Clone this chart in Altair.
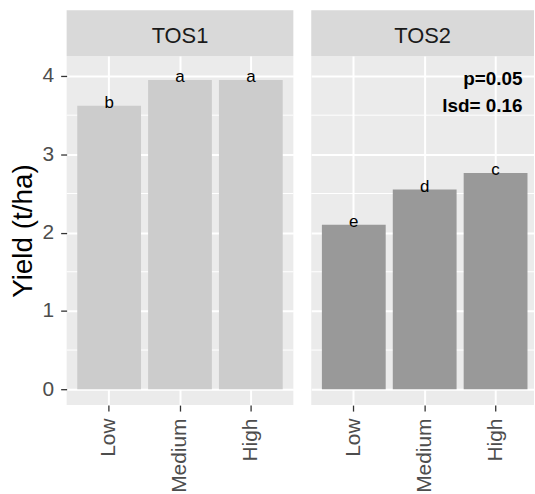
import altair as alt
import pandas as pd

levels = ["Low", "Medium", "High"]
panels = ["TOS1", "TOS2"]
tos1_yield = [3.62, 3.95, 3.95]
tos2_yield = [2.10, 2.55, 2.76]
tos1_letters = ["b", "a", "a"]
tos2_letters = ["e", "d", "c"]
bar_colors = ["#CCCCCC", "#999999"]
note_lines = ["p=0.05", "lsd= 0.16"]
note_level = ["High", "High"]
note_y = [3.89, 3.545]
y_ticks = [0, 1, 2, 3, 4]
y_minor = [0.5, 1.5, 2.5, 3.5]

FONT = "Liberation Sans"
H = 351
STRIP = 46
YDOM = [-0.203, 4.255]


def make_panel(name, vals, letters, color, width, first, scale_kw, notes=False):
    df = pd.DataFrame({"level": levels, "yield": vals, "letter": letters})
    xscale = alt.Scale(domain=levels, **scale_kw)
    yscale = alt.Scale(domain=YDOM, nice=False, zero=False)
    xaxis = alt.Axis(
        title=None, labelAngle=270, labelAlign="right", labelBaseline="middle",
        labelFontSize=21, labelColor="#4D4D4D", labelFont=FONT, labelPadding=7,
        tickSize=6, tickColor="#333333", tickWidth=1.3, domain=False,
        grid=True, gridColor="white", gridWidth=2, bandPosition=0.5,
    )
    if first:
        yaxis = alt.Axis(
            title="Yield (t/ha)", values=y_ticks, format="d",
            titleFontSize=28, titleFont=FONT,
            titleFontWeight="normal", titleColor="black", titlePadding=5,
            labelFontSize=21, labelColor="#4D4D4D", labelFont=FONT, labelPadding=7,
            tickSize=6, tickColor="#333333", tickWidth=1.3, domain=False,
            grid=True, gridColor="white", gridWidth=2,
        )
    else:
        yaxis = alt.Axis(
            title=None, values=y_ticks, labels=False, ticks=False, domain=False,
            grid=True, gridColor="white", gridWidth=2,
        )
    x_enc = alt.X("level:N", scale=xscale, axis=xaxis, sort=levels)
    bars = alt.Chart(df).mark_bar(color=color).encode(
        x=x_enc,
        y=alt.Y("yield:Q", scale=yscale, axis=yaxis),
        y2=alt.datum(0),
    )
    minor = alt.Chart(pd.DataFrame({"v": y_minor})).mark_rule(
        color="white", strokeWidth=1
    ).encode(y=alt.Y("v:Q", scale=yscale, axis=yaxis))
    lett = alt.Chart(df).mark_text(
        font=FONT, fontSize=17, baseline="alphabetic", dy=2, color="black"
    ).encode(x=alt.X("level:N", sort=levels), y="yield:Q", text="letter:N")
    layers = [minor, bars, lett]
    if notes:
        ndf = pd.DataFrame({"level": note_level, "y": note_y, "t": note_lines})
        nt = alt.Chart(ndf).mark_text(
            font=FONT, fontSize=19, fontWeight="bold", align="right",
            baseline="alphabetic", dx=27, color="black"
        ).encode(x=alt.X("level:N", sort=levels), y="y:Q", text="t:N")
        layers.append(nt)
    sdf = pd.DataFrame({"panel": [name]})
    rect = alt.Chart(sdf).mark_rect(color="#D9D9D9").encode(
        x=alt.value(0), x2=alt.value(width), y=alt.value(-STRIP), y2=alt.value(0)
    )
    stxt = alt.Chart(sdf).mark_text(
        font=FONT, fontSize=22, color="#1A1A1A", baseline="alphabetic"
    ).encode(x=alt.value(width / 2), y=alt.value(-13), text="panel:N")
    layers += [rect, stxt]
    return alt.layer(*layers).properties(width=width, height=H)


p1 = make_panel(panels[0], tos1_yield, tos1_letters, bar_colors[0], 228, True,
                dict(paddingInner=0.1, paddingOuter=0.15))
p2 = make_panel(panels[1], tos2_yield, tos2_letters, bar_colors[1], 224, False,
                dict(paddingInner=0.1, paddingOuter=0.121, align=0.62), notes=True)

chart = alt.hconcat(p1, p2, spacing=16).configure_view(
    fill="#EBEBEB", stroke=None
).properties(
    background="white",
    padding={"top": 9, "left": 9, "right": 0, "bottom": 0},
)

chart.save("out.html", embed_options={"renderer": "svg", "actions": False})
